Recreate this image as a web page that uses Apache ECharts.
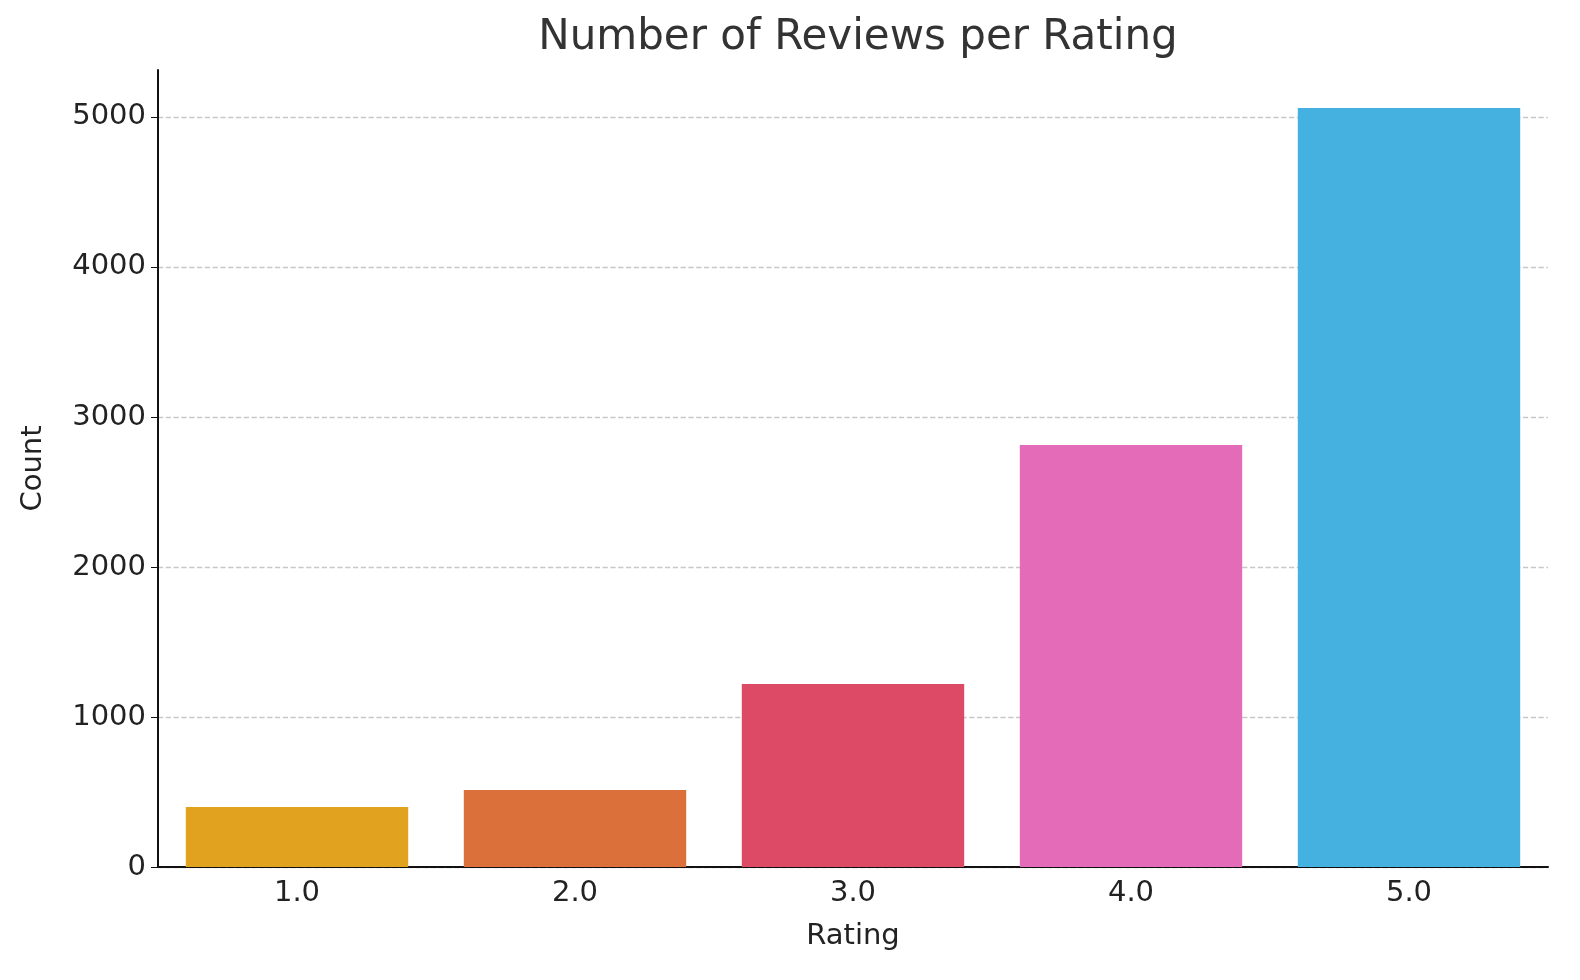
<!DOCTYPE html>
<html><head><meta charset="utf-8">
<script src="https://cdn.jsdelivr.net/npm/echarts@6/dist/echarts.min.js"></script>
<style>html,body{margin:0;background:#fff}#c{width:1580px;height:980px}</style>
</head><body><div id="c"></div>
<script>
var ratings = ['1.0', '2.0', '3.0', '4.0', '5.0'];
var counts = [400, 513, 1220, 2813, 5060];
var barColors = ['#E0A21F', '#DB703A', '#DC4A65', '#E36BB8', '#45B1E0'];

var chart = echarts.init(document.getElementById('c'));
var font = 'DejaVu Sans';
chart.setOption({
	animation: false,
	title: {
		text: 'Number of Reviews per Rating', left: 853, top: 12, textAlign: 'center',
		textStyle: {fontFamily: font, fontSize: 42, fontWeight: 'normal', color: '#333'}
	},
	grid: {left: 158, right: 32, top: 70, bottom: 113},
	xAxis: {
		type: 'category', data: ratings, name: 'Rating', nameLocation: 'middle', nameGap: 55,
		nameTextStyle: {fontFamily: font, fontSize: 29, color: '#222'},
		axisLine: {lineStyle: {color: '#111', width: 2}},
		axisTick: {alignWithLabel: true, length: 7, lineStyle: {color: '#111'}},
		axisLabel: {fontFamily: font, fontSize: 29, color: '#222', margin: 12}
	},
	yAxis: {
		type: 'value', min: 0, max: 5313, interval: 1000, name: 'Count', nameLocation: 'middle', nameGap: 110,
		nameTextStyle: {fontFamily: font, fontSize: 29, color: '#222'},
		axisLine: {show: true, lineStyle: {color: '#111', width: 2}},
		axisTick: {show: true, length: 7, lineStyle: {color: '#111'}},
		axisLabel: {fontFamily: font, fontSize: 29, color: '#222', margin: 12, showMaxLabel: false,
			formatter: function (v) { return String(v); }},
		splitLine: {showMaxLine: false, lineStyle: {color: '#c8c8c8', type: 'dashed', width: 1.3}}
	},
	series: [{
		type: 'bar', barWidth: '80%',
		data: counts.map(function (v, i) { return {value: v, itemStyle: {color: barColors[i]}}; })
	}]
});
</script></body></html>
